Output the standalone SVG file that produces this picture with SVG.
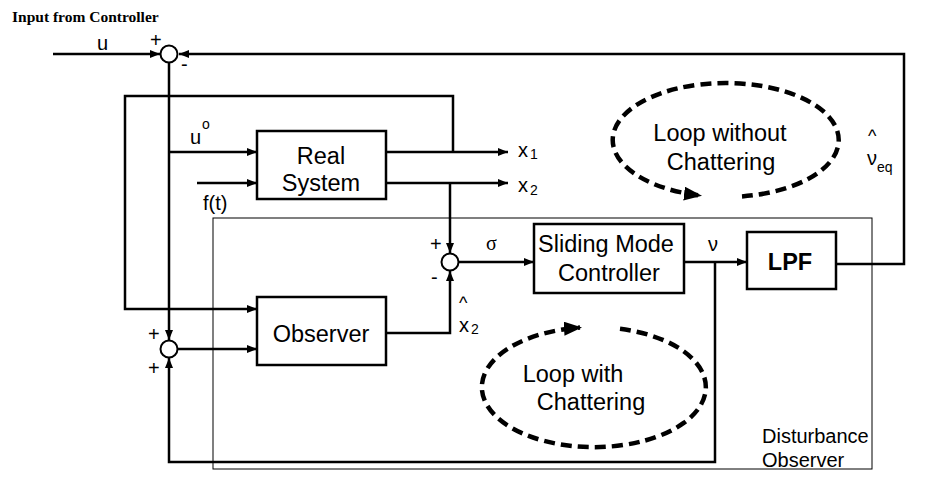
<svg xmlns="http://www.w3.org/2000/svg" width="935" height="478" viewBox="0 0 935 478">
<defs>
<marker id="ah" viewBox="0 0 10 8" refX="10" refY="4" markerWidth="10" markerHeight="8" markerUnits="userSpaceOnUse" orient="auto">
<path d="M0,0 L10,4 L0,8 z" fill="#000"/>
</marker>
<marker id="bh" viewBox="0 0 18 14" refX="16" refY="7" markerWidth="18" markerHeight="14" markerUnits="userSpaceOnUse" orient="auto">
<path d="M0,0 L18,7 L0,14 z" fill="#000"/>
</marker>
</defs>
<style>
.t{font-family:"Liberation Sans",Arial,sans-serif;font-size:20px;fill:#000}
.b{font-family:"Liberation Sans",Arial,sans-serif;font-size:23.5px;fill:#000}
.hat{font-family:"Liberation Sans",Arial,sans-serif;font-size:18px;fill:#000}
.sub{font-size:14px}
.box{fill:#fff;stroke:#000;stroke-width:2.5}
.sum{fill:#fff;stroke:#000;stroke-width:2}
.c{fill:none;stroke:#000;stroke-width:2.5}
.loop{fill:none;stroke:#000;stroke-width:4.5;stroke-dasharray:11 6}
</style>
<rect width="935" height="478" fill="#fff"/>
<rect id="disturbance-observer" x="213" y="218" width="659" height="251" fill="none" stroke="#000" stroke-width="1"/>
<g id="connectors">
<path class="c" d="M53,54 H160" marker-end="url(#ah)"/>
<path class="c" d="M836,264 H904 V54 H179" marker-end="url(#ah)"/>
<path class="c" d="M169,63 V340" marker-end="url(#ah)"/>
<path class="c" d="M169,152 H257" marker-end="url(#ah)"/>
<path class="c" d="M453,152 V96 H125 V309 H257" marker-end="url(#ah)"/>
<path class="c" d="M386,152 H508" marker-end="url(#ah)"/>
<path class="c" d="M386,183 H508" marker-end="url(#ah)"/>
<path class="c" d="M197,183 H257" marker-end="url(#ah)"/>
<path class="c" d="M450,183 V253" marker-end="url(#ah)"/>
<path class="c" d="M459,262 H534" marker-end="url(#ah)"/>
<path class="c" d="M386,333 H450 V271" marker-end="url(#ah)"/>
<path class="c" d="M178,349 H257" marker-end="url(#ah)"/>
<path class="c" d="M684,262 H747" marker-end="url(#ah)"/>
<path class="c" d="M715,262 V462 H169 V358" marker-end="url(#ah)" stroke-width="3"/>
</g>
<g id="sum-top"><circle class="sum" cx="169" cy="54" r="8.5"/></g>
<g id="sum-mid"><circle class="sum" cx="450" cy="262" r="8.5"/></g>
<g id="sum-bottom"><circle class="sum" cx="169" cy="349" r="8.5"/></g>
<g id="real-system">
<rect class="box" x="257" y="131" width="129" height="68"/>
<text class="b" x="321" y="164" text-anchor="middle">Real</text>
<text class="b" x="321" y="191" text-anchor="middle">System</text>
</g>
<g id="observer">
<rect class="box" x="257" y="297" width="129" height="68"/>
<text class="b" x="321" y="342" text-anchor="middle">Observer</text>
</g>
<g id="smc">
<rect class="box" x="534" y="224" width="150" height="69"/>
<text class="b" x="606" y="252" text-anchor="middle">Sliding Mode</text>
<text class="b" x="609" y="281" text-anchor="middle">Controller</text>
</g>
<g id="lpf">
<rect class="box" x="747" y="232" width="89" height="57"/>
<text class="b" x="790" y="270" text-anchor="middle" font-weight="bold">LPF</text>
</g>
<g id="loop-without">
<path class="loop" d="M742,196.4 A113,57 0 1 0 700,195.5" marker-end="url(#bh)"/>
<text class="b" x="720" y="141" text-anchor="middle">Loop without</text>
<text class="b" x="721" y="170" text-anchor="middle">Chattering</text>
</g>
<g id="loop-with">
<path class="loop" d="M620,328.8 A112,60 0 1 1 580,327.6" marker-end="url(#bh)"/>
<text class="b" x="573" y="382" text-anchor="middle">Loop with</text>
<text class="b" x="591" y="410" text-anchor="middle">Chattering</text>
</g>
<g id="labels">
<text x="12" y="22" font-family="'Liberation Serif','Times New Roman',serif" font-weight="bold" font-size="15.5">Input from Controller</text>
<text class="t" x="97" y="50">u</text>
<text class="t" x="150" y="47" font-size="18">+</text>
<text class="t" x="181" y="71" font-size="18">-</text>
<text class="t" x="190" y="144">u<tspan class="sub" font-size="16" x="202" y="129">o</tspan></text>
<text class="t" x="518" y="157" font-size="21">x<tspan class="sub" x="530" y="159">1</tspan></text>
<text class="t" x="518" y="192" font-size="21">x<tspan class="sub" x="530" y="195">2</tspan></text>
<text class="t" x="203" y="210" font-size="19">f(t)</text>
<text class="t" x="430" y="251" font-size="18">+</text>
<text class="t" x="431" y="284" font-size="18">-</text>
<text x="486" y="250" font-family="'Liberation Serif','Times New Roman',serif" font-size="20">σ</text>
<text class="t" x="708" y="251">ν</text>
<text class="hat" x="459" y="309">^</text>
<text class="t" x="459" y="332">x<tspan class="sub" x="471" y="334">2</tspan></text>
<text class="hat" x="868" y="142">^</text>
<text class="t" x="867" y="165">ν<tspan class="sub" font-size="15" x="877" y="172">eq</tspan></text>
<text class="t" x="148" y="341" font-size="18">+</text>
<text class="t" x="148" y="375" font-size="18">+</text>
<text class="t" x="762" y="443" font-size="17">Disturbance</text>
<text class="t" x="762" y="467" font-size="17">Observer</text>
</g>
</svg>
